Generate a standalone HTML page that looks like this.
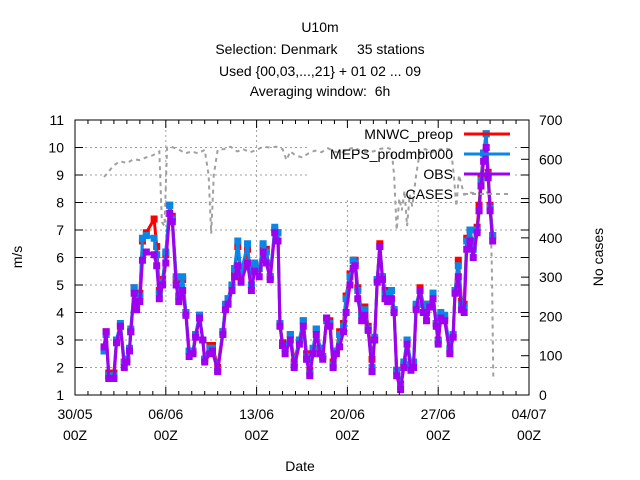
<!DOCTYPE html>
<html><head><meta charset="utf-8"><style>
html,body{margin:0;padding:0;background:#fff}
svg{display:block;font-family:"Liberation Sans",sans-serif}
</style></head><body>
<svg id="chart" width="640" height="480" viewBox="0 0 640 480" xmlns="http://www.w3.org/2000/svg">
<g font-size="14" text-anchor="middle" fill="#000">
<text x="320" y="32">U10m</text>
<text x="320" y="54">Selection: Denmark &#160;&#160;&#160; 35 stations</text>
<text x="320" y="76">Used {00,03,...,21} + 01 02 ... 09</text>
<text x="320" y="96">Averaging window: &#160;6h</text>
</g>
<text x="22" y="257" font-size="14" text-anchor="middle" transform="rotate(-90 22 257)">m/s</text>
<text x="603" y="257" font-size="14" text-anchor="middle" transform="rotate(-90 603 257)">No cases</text>
<text x="300" y="471" font-size="14" text-anchor="middle">Date</text>
<g id="grid"></g>
<rect x="307" y="121" width="206" height="79" fill="#fff"/>
<g id="data"></g>
<g id="axes"></g>
<g id="legend" font-size="14" text-anchor="end"></g>
</svg>
<script>
const xTickLabels = ["30/05","06/06","13/06","20/06","27/06","04/07"];
const yTicks = [1,2,3,4,5,6,7,8,9,10,11];
const y2Ticks = [0,100,200,300,400,500,600,700];
const times = [2.24,2.4,2.6,3.0,3.2,3.5,3.8,4.0,4.2,4.3,4.56,4.75,5.0,5.2,5.5,6.1,6.3,6.5,6.75,7.0,7.3,7.5,7.8,8.0,8.3,8.55,8.8,9.1,9.3,9.6,9.85,10.0,10.4,10.6,11.0,11.4,11.6,11.8,12.1,12.3,12.55,12.8,13.3,13.6,13.85,14.2,14.5,14.75,15.05,15.4,15.65,15.8,16.0,16.2,16.6,16.9,17.3,17.6,17.85,18.1,18.35,18.6,18.9,19.1,19.4,19.65,19.9,20.15,20.4,20.7,20.9,21.2,21.45,21.6,21.8,22.1,22.35,22.6,22.9,23.1,23.3,23.5,23.7,23.9,24.1,24.4,24.6,24.8,25.1,25.35,25.6,25.9,26.1,26.3,26.6,26.85,27.1,27.35,27.6,27.85,28.0,28.2,28.5,28.9,29.15,29.3,29.55,29.8,30.0,30.2,30.45,30.7,31.0,31.15,31.3,31.5,31.7,31.85,32.0,32.2];
const obs = [2.75,3.3,1.6,1.6,2.9,3.5,2.0,2.2,2.6,3.3,4.7,4.1,4.4,5.9,6.2,6.1,5.7,4.5,5.0,5.8,7.6,7.3,5.0,4.4,4.8,3.9,2.4,2.5,3.1,3.8,3.0,2.2,2.5,2.6,1.85,3.2,4.1,4.3,4.8,5.3,5.7,5.1,5.8,4.8,5.5,5.3,6.2,5.8,5.2,6.9,6.6,3.5,2.8,2.5,3.0,2.0,2.85,3.5,2.3,1.7,2.5,3.2,2.5,2.3,3.8,3.5,2.0,2.5,2.75,3.3,4.0,5.0,5.6,5.7,4.5,3.7,3.9,3.35,1.85,3.0,5.1,6.4,5.2,4.5,4.4,4.5,4.0,1.7,1.2,2.0,2.85,1.9,2.0,4.1,4.8,4.0,3.7,4.2,4.5,3.5,2.85,3.8,3.7,2.5,3.1,4.7,5.3,4.1,4.0,6.3,6.6,6.0,6.9,7.7,8.6,9.5,10.0,8.9,7.7,6.6];
const meps = [2.6,3.2,1.7,1.7,3.0,3.6,2.2,2.3,2.7,3.4,4.9,4.3,4.6,6.7,6.8,6.7,6.1,4.7,5.1,6.2,7.9,7.4,5.3,4.6,5.3,4.0,2.6,2.6,3.2,3.9,3.0,2.3,2.7,2.7,1.9,3.3,4.3,4.5,5.0,5.6,6.6,5.4,6.5,5.0,5.8,5.6,6.5,6.2,5.3,7.1,6.9,3.6,2.8,2.7,3.2,2.1,3.0,3.7,2.4,1.8,2.7,3.4,2.7,2.4,3.7,3.6,2.1,2.6,3.2,3.5,4.5,5.3,5.9,5.8,4.8,3.9,4.1,3.4,2.0,3.1,5.2,6.4,5.3,4.7,4.6,4.8,4.1,1.9,1.3,2.2,3.0,2.1,2.2,4.3,4.8,4.3,4.0,4.3,4.7,3.6,2.95,4.0,3.9,2.7,3.2,4.8,5.7,4.3,4.2,6.6,7.0,6.3,7.0,7.7,8.8,9.8,10.5,9.0,7.8,6.8];
const mnwc = [2.7,3.3,1.8,1.8,3.0,3.5,2.2,2.3,2.6,3.3,4.9,4.4,4.7,6.6,6.9,7.4,6.4,4.8,5.2,6.1,7.9,7.5,5.2,4.6,5.2,4.0,2.6,2.6,3.2,3.9,3.0,2.3,2.8,2.8,2.0,3.3,4.2,4.5,5.0,5.5,6.4,5.3,6.3,5.0,5.7,5.6,6.4,6.3,5.3,7.0,6.9,3.6,2.9,2.7,3.2,2.2,3.0,3.7,2.5,1.9,2.6,3.4,2.7,2.4,3.8,3.7,2.2,2.6,3.3,3.6,4.6,5.4,5.9,5.9,4.9,4.0,4.2,3.5,2.3,3.0,5.2,6.5,5.3,4.8,4.7,4.8,4.1,1.9,1.4,2.1,3.0,2.1,2.1,4.2,4.9,4.3,4.1,4.3,4.7,3.6,3.0,3.9,3.8,2.6,3.2,4.8,5.9,4.4,4.3,6.7,7.0,6.4,7.1,7.9,8.9,9.8,10.5,9.1,7.9,6.8];
const caseTimes = [2.24,2.5,3.0,3.5,4.0,4.5,5.0,5.5,6.0,6.5,6.7,6.9,7.1,7.4,8.0,8.5,9.0,9.5,10.0,10.3,10.5,10.7,11.0,11.5,12.0,12.5,13.0,13.5,14.0,14.5,15.0,15.5,16.0,16.3,16.6,17.0,17.5,18.0,18.5,19.0,19.5,20.0,20.5,21.0,21.5,22.0,22.5,23.0,23.5,24.0,24.4,24.6,24.8,25.0,25.2,25.4,25.6,25.8,26.0,26.3,26.6,27.0,27.5,28.0,28.5,29.0,29.2,29.4,29.6,30.0,30.5,31.0,31.5,32.0,32.15,32.25];
const cases = [555,565,585,595,590,600,598,605,610,620,440,430,630,632,625,615,620,615,624,560,411,560,624,626,632,620,625,618,624,632,630,632,626,598,620,610,605,615,622,618,628,620,615,625,630,622,618,620,626,630,625,560,420,500,470,520,430,510,480,560,622,626,618,624,628,624,560,480,560,510,515,513,516,515,300,38];

const L=75,R=529,T=120,B=395;
const xS=d=>L+(R-L)*d/35;
const yS=v=>B-(B-T)*(v-1)/10;
const y2S=v=>B-(B-T)*v/700;
const NS="http://www.w3.org/2000/svg";
function mk(tag,attrs,parent){const e=document.createElementNS(NS,tag);for(const k in attrs)e.setAttribute(k,attrs[k]);parent.appendChild(e);return e;}
const grid=document.getElementById('grid'),axes=document.getElementById('axes'),data=document.getElementById('data'),leg=document.getElementById('legend');

xTickLabels.forEach((lab,i)=>{
  const x=xS(i*7);
  if(i>0&&i<5){const g=mk('line',{x1:x,x2:x,y1:T,y2:B,stroke:'#a0a0a0','stroke-dasharray':'2,3'},grid);
  
  }
  const t=mk('text',{x:x,y:419,'font-size':14,'text-anchor':'middle'},axes);t.textContent=lab;
  
  
  const t2=mk('text',{x:x,y:440,'font-size':14,'text-anchor':'middle'},axes);t2.textContent='00Z';
  
  
});
for(let d=0;d<=35;d++){const x=xS(d);const len=d%7==0?8:4;
  mk('line',{x1:x,x2:x,y1:B,y2:B-len,stroke:'#000'},axes);
  mk('line',{x1:x,x2:x,y1:T,y2:T+len,stroke:'#000'},axes);}
yTicks.forEach(v=>{const y=yS(v);
  if(v>1&&v<11){const g=mk('line',{x1:L,x2:R,y1:y,y2:y,stroke:'#a0a0a0','stroke-dasharray':'2,3'},grid);
  
  }
  mk('line',{x1:L,x2:L+8,y1:y,y2:y,stroke:'#000'},axes);
  mk('line',{x1:R,x2:R-8,y1:y,y2:y,stroke:'#000'},axes);
  const t=mk('text',{x:L-11,y:y+5,'font-size':14,'text-anchor':'end'},axes);t.textContent=v;
  
  
});
y2Ticks.forEach(v=>{const y=y2S(v);
  mk('line',{x1:R,x2:R-8,y1:y,y2:y,stroke:'#000'},axes);
  const t=mk('text',{x:R+10,y:y+5,'font-size':14,'text-anchor':'start'},axes);t.textContent=v;
  
  
});
const frame=mk('rect',{x:L,y:T,width:R-L,height:B-T,fill:'none',stroke:'#000'},axes);



// cases
const cp=mk('polyline',{points:caseTimes.map((d,i)=>xS(d)+','+y2S(cases[i])).join(' '),fill:'none',stroke:'#a0a0a0','stroke-width':2,'stroke-dasharray':'4,4'},data);



function series(vals,color,name,ps){
  const g=mk('g',{},data);
  
  
  const p=mk('polyline',{points:times.map((d,i)=>xS(d)+','+yS(vals[i])).join(' '),fill:'none',stroke:color,'stroke-width':3,'stroke-linejoin':'round'},g);
  
  
  times.forEach((d,i)=>{
    const r=mk('rect',{x:xS(d)-ps/2,y:yS(vals[i])-ps/2,width:ps,height:ps,fill:color},g);
    
    
  });
}
series(mnwc,'#ff0000','mnwc-preop',7);
series(meps,'#0a86e6','meps-prodmbr000',7);
series(obs,'#a000f0','obs',7);

const items=[['MNWC_preop','#ff0000',134,''],['MEPS_prodmbr000','#0a86e6',154,''],['OBS','#a000f0',174,''],['CASES','#a0a0a0',194,'4,4']];
items.forEach(it=>{
  const t=mk('text',{x:453,y:it[2]+5},leg);t.textContent=it[0];
  
  
  const l=mk('line',{x1:464,x2:510,y1:it[2],y2:it[2],stroke:it[1],'stroke-width':it[3]?2:3,'stroke-dasharray':it[3]||'none'},leg);
  
  
});
</script>
</body></html>
